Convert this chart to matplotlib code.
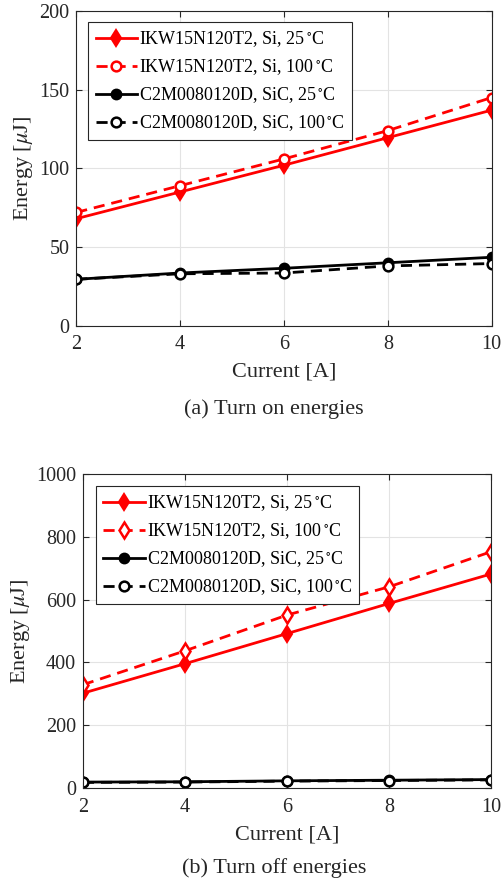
import matplotlib
matplotlib.use("Agg")
import matplotlib.pyplot as plt

plt.rcParams['font.family'] = ['Liberation Serif', 'DejaVu Serif']
plt.rcParams['mathtext.fontset'] = 'stix'

# Données
current = [2, 4, 6, 8, 10]

on_si_25 = [68, 85, 102, 119.5, 137]
on_si_100 = [72, 89, 106, 124, 145]
on_sic_25 = [29.5, 33.5, 36.5, 40, 43.5]
on_sic_100 = [29.5, 33, 33.5, 38, 39.5]

off_si_25 = [302, 396, 492, 588, 682]
off_si_100 = [329, 437, 551, 641, 753]
off_sic_25 = [19, 20, 23, 25, 27]
off_sic_100 = [18, 19, 22, 24, 26]

labels = ['IKW15N120T2, Si, 25$\\,^{\\circ}$C',
          'IKW15N120T2, Si, 100$\\,^{\\circ}$C',
          'C2M0080120D, SiC, 25$\\,^{\\circ}$C',
          'C2M0080120D, SiC, 100$\\,^{\\circ}$C']

tc = '#262626'

fig = plt.figure(figsize=(5.01, 8.81), dpi=100)
ax1 = fig.add_axes([0.1523, 0.6303, 0.829, 0.3572])
ax2 = fig.add_axes([0.1655, 0.1055, 0.8155, 0.3565])


def style(ax, ymax, ystep, ylab_x):
    ax.set_xlim(2, 10)
    ax.set_ylim(0, ymax)
    ax.set_xticks(current)
    ax.set_yticks(range(0, ymax + 1, ystep))
    ax.grid(True, color='#e3e3e3', linewidth=0.8)
    ax.set_axisbelow(True)
    ax.tick_params(direction='in', length=4, colors=tc, labelsize=14.5,
                   top=True, right=True, pad=5)
    ax.tick_params(axis='x', pad=7)
    for s in ax.spines.values():
        s.set_color(tc)
        s.set_linewidth(0.8)
    ax.set_xlabel('Current [A]', fontsize=16, color=tc)
    ax.set_ylabel('Energy [$\\mu$J]', fontsize=16, color=tc)
    ax.xaxis.set_label_coords(0.5, -0.118)
    ax.yaxis.set_label_coords(ylab_x, 0.5)


def legend(ax, x, y):
    leg = ax.legend(loc='upper left', bbox_to_anchor=(x, y), fontsize=13,
                    fancybox=False, edgecolor=tc, framealpha=1, handlelength=2.3,
                    handletextpad=0.1, borderpad=0.4, labelspacing=0.45,
                    borderaxespad=0)
    leg.get_frame().set_linewidth(0.8)


# Turn on
ax1.plot(current, on_si_25, color='red', lw=2, marker='d', ms=8, mew=1.5, label=labels[0])
ax1.plot(current, on_si_100, color='red', lw=2, ls=(0, (4, 2.5)), marker='o', ms=7,
         mfc='white', mew=1.8, label=labels[1])
ax1.plot(current, on_sic_25, color='black', lw=2, marker='o', ms=7, mew=1.5, label=labels[2])
ax1.plot(current, on_sic_100, color='black', lw=2, ls=(0, (4, 2.5)), marker='o', ms=7,
         mfc='white', mew=1.8, label=labels[3])
style(ax1, 200, 50, -0.10)
legend(ax1, 0.029, 0.965)
fig.text(0.547, 1 - 409 / 881, '(a) Turn on energies', ha='center', va='center',
         fontsize=16, color=tc)

# Turn off
ax2.plot(current, off_si_25, color='red', lw=2, marker='d', ms=8, mew=1.5, label=labels[0])
ax2.plot(current, off_si_100, color='red', lw=2, ls=(0, (4, 2.5)), marker='d', ms=8,
         mfc='white', mew=1.8, label=labels[1])
ax2.plot(current, off_sic_25, color='black', lw=2, marker='o', ms=7, mew=1.5, label=labels[2])
ax2.plot(current, off_sic_100, color='black', lw=2, ls=(0, (4, 2.5)), marker='o', ms=7,
         mfc='white', mew=1.8, label=labels[3])
style(ax2, 1000, 200, -0.125)
legend(ax2, 0.032, 0.962)
fig.text(0.547, 1 - 868 / 881, '(b) Turn off energies', ha='center', va='center',
         fontsize=16, color=tc)

fig.savefig('out.png', dpi=100)
